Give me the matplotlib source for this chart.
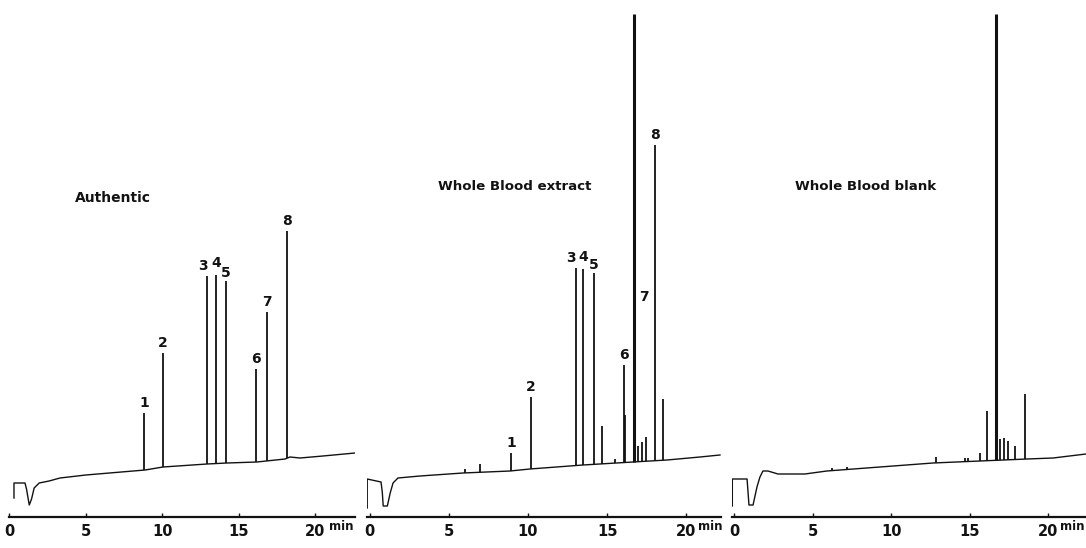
import numpy as np
import matplotlib
matplotlib.use("Agg")
import matplotlib.pyplot as plt

# three GC traces, time in min, detector response in arbitrary units

# --- Authentic ---
auth_base_t = [0.30, 0.30, 1.02, 1.12, 1.30, 1.45, 1.62, 1.95, 2.6, 3.31, 5.0, 8.88, 10.05,
               12.93, 14.24, 16.2, 18.04, 18.36, 19.02, 20.52, 22.62]
auth_base_h = [19, 34, 34, 28, 12, 18, 29, 34, 36, 39, 42, 47, 50,
               53, 54, 55, 58, 60, 59, 61, 64]
auth_rt = [8.81, 10.05, 12.93, 13.52, 14.17, 16.14, 16.86, 18.17]
auth_top = [104, 164, 241, 242, 236, 148, 205, 286]
auth_lab = ["1", "2", "3", "4", "5", "6", "7", "8"]

# --- Whole Blood extract ---
ext_base_t = [-0.15, -0.15, 0.72, 0.8, 0.86, 1.12, 1.3, 1.48, 1.79, 3.18, 5.9, 8.87,
              10.12, 13.47, 16.63, 18.78, 20.86, 22.12]
ext_base_h = [9, 38, 35, 25, 11, 11, 24, 34, 39, 41, 44, 46,
              48, 52, 55, 57, 60, 62]
ext_rt = [6.05, 6.97, 8.93, 10.19, 13.0, 13.5, 14.14, 14.65, 15.49, 16.06, 16.12, 16.69,
          16.95, 17.2, 17.45, 18.02, 18.52]
ext_top = [48, 53, 64, 120, 249, 248, 244, 91, 58, 152, 102, 503,
           71, 75, 80, 372, 118]
ext_lab = ["", "", "1", "2", "3", "4", "5", "", "", "6", "", "7",
           "", "", "", "8", ""]

# --- Whole Blood blank ---
blank_base_t = [-0.12, -0.12, 0.82, 0.88, 0.94, 1.2, 1.45, 1.64, 1.83, 2.15, 2.79, 4.5, 5.9,
                12.66, 15.65, 18.65, 20.31, 22.41]
blank_base_h = [11, 38, 38, 25, 12, 12, 30, 40, 46, 46, 43, 43, 46,
                54, 56, 58, 59, 63]
blank_rt = [6.2, 7.2, 12.85, 14.7, 14.9, 15.65, 16.1, 16.67, 16.93, 17.18, 17.44, 17.88, 18.52]
blank_top = [49, 50, 60, 59, 59, 64, 106, 503, 78, 79, 76, 71, 123]

ticks = [0, 5, 10, 15, 20]

W, H = 1086, 548
ink = "#121212"
font = "DejaVu Sans"

fig = plt.figure(figsize=(W / 100, H / 100), dpi=100)


def make_axes(p0, scale, xlim):
    # p0 = pixel of t=0, scale = pixels per minute
    left = (p0 + scale * xlim[0]) / W
    width = scale * (xlim[1] - xlim[0]) / W
    ax = fig.add_axes([left, (H - 517) / H, width, 517 / H])
    ax.set_xlim(*xlim)
    ax.set_ylim(0, 517)
    for s in ["left", "right", "top"]:
        ax.spines[s].set_visible(False)
    ax.spines["bottom"].set_linewidth(1.6)
    ax.spines["bottom"].set_color(ink)
    ax.set_yticks([])
    ax.set_xticks(ticks)
    ax.set_xticklabels([str(t) for t in ticks], fontsize=10.5, fontweight="bold", family=font)
    ax.tick_params(axis="x", direction="in", length=3, width=1, pad=5, colors=ink)
    ax.patch.set_alpha(0)
    return ax


def draw(ax, base_t, base_h, rt, top, labels=None, nudge=None, side=None):
    ax.plot(base_t, base_h, color=ink, lw=1.0, solid_joinstyle="round")
    foot = np.interp(rt, base_t, base_h)
    top = np.array(top)
    # off-scale peaks came out thicker on the recorder
    widths = np.where(top > 450, 2.2, 1.3)
    ax.vlines(rt, foot, top, color=ink, lw=widths)
    if labels is None:
        return
    nudge = nudge or {}
    side = side or {}
    for r, t, lab in zip(rt, top, labels):
        if not lab:
            continue
        if lab in side:
            ax.annotate(lab, (r, side[lab]), xytext=(7, 0), textcoords="offset points",
                        ha="center", va="center", fontsize=10, fontweight="bold",
                        family=font, color=ink)
            continue
        dx, dy = nudge.get(lab, (0, 0))
        ax.annotate(lab, (r, t), xytext=(dx, 2 + dy), textcoords="offset points",
                    ha="center", va="bottom", fontsize=10, fontweight="bold",
                    family=font, color=ink)


def add_min(ax, t):
    ax.annotate("min", (t, 0), xycoords=("data", "axes fraction"), xytext=(0, -6.5),
                textcoords="offset points", ha="center", va="center",
                fontsize=8.5, fontweight="bold", family=font, color=ink)


ax1 = make_axes(9.4, 15.28, (0, 22.62))
draw(ax1, auth_base_t, auth_base_h, auth_rt, auth_top, auth_lab,
     nudge={"3": (-3, 0), "4": (0, 1.5), "5": (0, -1)})
ax1.text(4.3, 319, "Authentic", fontsize=10, fontweight="bold", family=font,
         color=ink, ha="left", va="center")
add_min(ax1, 21.75)

ax2 = make_axes(369.6, 15.84, (-0.16, 22.18))
draw(ax2, ext_base_t, ext_base_h, ext_rt, ext_top, ext_lab,
     nudge={"3": (-3, 0), "4": (0, 1.5), "5": (0, -1)}, side={"7": 220})
ax2.text(4.3, 331, "Whole Blood extract", fontsize=9.6, fontweight="bold", family=font,
         color=ink, ha="left", va="center")
add_min(ax2, 21.5)

ax3 = make_axes(734.2, 15.7, (-0.14, 22.41))
draw(ax3, blank_base_t, blank_base_h, blank_rt, blank_top)
ax3.text(3.86, 331, "Whole Blood blank", fontsize=9.6, fontweight="bold", family=font,
         color=ink, ha="left", va="center")
add_min(ax3, 21.55)

fig.savefig("out.png", dpi=100)
